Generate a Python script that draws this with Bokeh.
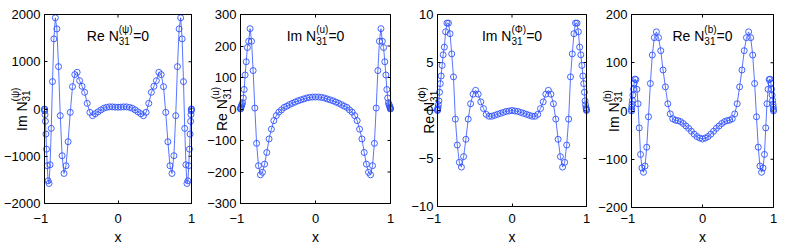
import math
from bokeh.plotting import figure
from bokeh.models import Range1d, FixedTicker, Label, LinearAxis
from bokeh.layouts import row
from bokeh.embed import file_html
from bokeh.resources import INLINE

# ---------------- data ----------------
x = [-1.0, -0.9992, -0.9969, -0.9931, -0.9877, -0.9808, -0.9724, -0.9625, -0.9511, -0.9382,
     -0.9239, -0.9081, -0.8910, -0.8725, -0.8526, -0.8315, -0.8090, -0.7853, -0.7604, -0.7343,
     -0.7071, -0.6788, -0.6494, -0.6191, -0.5878, -0.5556, -0.5225, -0.4886, -0.4540, -0.4187,
     -0.3827, -0.3461, -0.3090, -0.2714, -0.2334, -0.1951, -0.1564, -0.1175, -0.0785, -0.0393,
     0.0,
     0.0393, 0.0785, 0.1175, 0.1564, 0.1951, 0.2334, 0.2714, 0.3090, 0.3461, 0.3827,
     0.4187, 0.4540, 0.4886, 0.5225, 0.5556, 0.5878, 0.6191, 0.6494, 0.6788, 0.7071,
     0.7343, 0.7604, 0.7853, 0.8090, 0.8315, 0.8526, 0.8725, 0.8910, 0.9081, 0.9239,
     0.9382, 0.9511, 0.9625, 0.9724, 0.9808, 0.9877, 0.9931, 0.9969, 0.9992, 1.0]

im_psi = [0, -10, -40, -120, -260, -530, -850, -1200, -1520, -1576,
          -1180, -410, 580, 1484, 1930, 1696, 897, -141, -989, -1364,
          -1201, -693, -71, 473, 728, 777, 600, 480, 353, 120,
          -71, -141, -100, -60, -20, 15, 35, 45, 45, 40,
          38,
          40, 45, 45, 35, 15, -20, -60, -100, -141, -71,
          120, 353, 480, 600, 777, 728, 473, -71, -693, -1201,
          -1364, -989, -141, 897, 1696, 1930, 1484, 580, -410, -1180,
          -1576, -1520, -1200, -850, -530, -260, -120, -40, -10, 0]

re_u = [0, 1, 3, 6, 10, 14, 20, 35, 62, 108,
        150, 195, 215, 255, 215, 122, 3, -109, -180, -209,
        -201, -175, -138, -95, -64, -37, -21, -10, -3, 5,
        9, 14, 18, 22, 26, 29, 32, 35, 37, 38,
        38,
        38, 37, 35, 32, 29, 26, 22, 18, 14, 9,
        5, -3, -10, -21, -37, -64, -95, -138, -175, -201,
        -209, -180, -109, 3, 122, 215, 255, 215, 195, 150,
        108, 62, 35, 20, 14, 10, 6, 3, 1, 0]

re_phi = [0, 0.05, 0.15, 0.3, 0.6, 1.0, 1.9, 2.8, 3.6, 4.7,
          5.8, 6.6, 8.2, 9.1, 9.1, 8.0, 5.9, 3.5, -0.9, -3.6,
          -5.4, -5.9, -4.8, -3.0, -0.9, 0.7, 1.7, 2.1, 1.7, 0.9,
          0.2, -0.4, -0.6, -0.6, -0.5, -0.4, -0.3, -0.2, -0.1, -0.05,
          0,
          -0.05, -0.1, -0.2, -0.3, -0.4, -0.5, -0.6, -0.6, -0.4, 0.2,
          0.9, 1.7, 2.1, 1.7, 0.7, -0.9, -3.0, -4.8, -5.9, -5.4,
          -3.6, -0.9, 3.5, 5.9, 8.0, 9.1, 9.1, 8.2, 6.6, 5.8,
          4.7, 3.6, 2.8, 1.9, 1.0, 0.6, 0.3, 0.15, 0.05, 0]

im_b = [0, 3, 8, 14, 22, 33, 45, 58, 66, 65,
        45, 15, -35, -90, -118, -127, -114, -75, -12, 57,
        116, 152, 164, 152, 125, 85, 50, 15, -6, -16,
        -19, -20, -22, -26, -31, -36, -42, -48, -53, -56,
        -58,
        -56, -53, -48, -42, -36, -31, -26, -22, -20, -19,
        -16, -6, 15, 50, 85, 125, 152, 164, 152, 116,
        57, -12, -75, -114, -127, -118, -90, -35, 15, 45,
        65, 66, 58, 45, 33, 22, 14, 8, 3, 0]

x_ticks = [-1, 0, 1]
ticks_psi = [-2000, -1000, 0, 1000, 2000]
ticks_u = [-300, -200, -100, 0, 100, 200, 300]
ticks_phi = [-10, -5, 0, 5, 10]
ticks_b = [-200, -100, 0, 100, 200]

# label pieces: (base, superscript, subscript[, tail])
ylab_psi = ("Im N", "(\u03c8)", "31")
ylab_u = ("Re N", "(u)", "31")
ylab_phi = ("Re N", "(\u03a6)", "31")
ylab_b = ("Im N", "(b)", "31")
title_psi = ("Re N", "(\u03c8)", "31", "=0")
title_u = ("Im N", "(u)", "31", "=0")
title_phi = ("Im N", "(\u03a6)", "31", "=0")
title_b = ("Re N", "(b)", "31", "=0")
x_label = "x"

# ---------------- styling / layout ----------------
FONT = "Liberation Sans"
BLUE = "#2f52ff"
H = 245
AW = {' ': 278, 'R': 722, 'e': 556, 'N': 722, 'I': 278, 'm': 833, '(': 333, ')': 333,
      '\u03c8': 780, '\u03a6': 800, 'u': 556, 'b': 556, '3': 556, '1': 556, '=': 584, '0': 556}
BIG, SMALL = 14, 10
SUP, SUB = 6.5, 4.5


def tw(s, size):
    return sum(AW.get(c, 556) for c in s) / 1000.0 * size


def lab(p, x, y, text, size, angle=0.0, align="left"):
    p.add_layout(Label(x=x, y=y, x_units="screen", y_units="screen", text=text,
                       text_font=FONT, text_font_size=f"{size}px", text_color="black",
                       text_align=align, text_baseline="alphabetic", angle=angle))


def minus(v):
    return f"{v:g}".replace("-", "\u2212")


def style_axis(ax, ticks, overrides, standoff):
    ax.ticker = FixedTicker(ticks=ticks)
    ax.major_label_overrides = overrides
    ax.major_tick_in = 3
    ax.major_tick_out = 0
    ax.minor_tick_in = 0
    ax.minor_tick_out = 0
    ax.axis_line_color = "black"
    ax.axis_line_width = 1
    ax.major_tick_line_color = "black"
    ax.major_label_text_font = FONT
    ax.major_label_text_font_size = "13px"
    ax.major_label_text_color = "black"
    ax.major_label_standoff = standoff


def make_panel(ys, yticks, ylab, title, W, fl, fr, ft, fb, xstand, ylab_x):
    lo, hi = yticks[0], yticks[-1]
    # the whole canvas is the frame; the visible box [-1,1]x[lo,hi] sits at (fl..fr, ft..fb)
    kx = 2.0 / (fr - fl)
    ky = (hi - lo) / float(fb - ft)
    xr = Range1d(-1 - fl * kx, 1 + (W - fr) * kx)
    yr = Range1d(lo - (H - fb) * ky, hi + ft * ky)
    p = figure(frame_width=W, frame_height=H, min_border=0,
               x_range=xr, y_range=yr,
               output_backend="svg", toolbar_location=None,
               background_fill_color="white", border_fill_color="white",
               outline_line_color=None)
    p.xgrid.visible = False
    p.ygrid.visible = False

    xo = {t: minus(t) for t in x_ticks}
    xo[-1] = minus(-1) + "\u2007"
    style_axis(p.xaxis[0], x_ticks, xo, xstand)
    style_axis(p.yaxis[0], yticks, {t: minus(t) for t in yticks}, 4)
    p.xaxis.fixed_location = lo
    p.xaxis.bounds = (-1, 1)
    p.yaxis.fixed_location = -1
    p.yaxis.bounds = (lo, hi)

    # top and right sides of the box
    top = LinearAxis(fixed_location=hi, bounds=(-1, 1), ticker=FixedTicker(ticks=[]),
                     axis_line_color="black", major_tick_line_color=None,
                     minor_tick_line_color=None)
    right = LinearAxis(fixed_location=1, bounds=(lo, hi), ticker=FixedTicker(ticks=[]),
                       axis_line_color="black", major_tick_line_color=None,
                       minor_tick_line_color=None)
    p.add_layout(top, "above")
    p.add_layout(right, "right")
    # mirrored inward tick marks on top and right
    p.ray(x=x_ticks, y=[hi] * len(x_ticks), length=3, length_units="screen",
          angle=-math.pi / 2, line_color="black", line_width=1)
    p.ray(x=[1] * len(yticks), y=yticks, length=3, length_units="screen",
          angle=math.pi, line_color="black", line_width=1)

    p.line(x, ys, line_color=BLUE, line_width=0.8)
    p.scatter(x, ys, marker="circle", size=6, fill_color=None, line_color=BLUE, line_width=0.9)

    cxf = (fl + fr) / 2.0
    cyf = (ft + fb) / 2.0

    # title inside the box: base + stacked sup/sub + tail
    b, sp, sb, tail = title
    wb = tw(b, BIG)
    ws = max(tw(sp, SMALL), tw(sb, SMALL))
    T = wb + ws + tw(tail, BIG)
    x0 = cxf - T / 2.0
    yb = H - 35.5
    lab(p, x0, yb, b, BIG)
    lab(p, x0 + wb, yb + SUP, sp, SMALL)
    lab(p, x0 + wb, yb - SUB, sb, SMALL)
    lab(p, x0 + wb + ws, yb, tail, BIG)

    # rotated y label
    b, sp, sb = ylab
    wb = tw(b, BIG)
    ws = max(tw(sp, SMALL), tw(sb, SMALL))
    L = wb + ws
    y0 = (H - cyf) - L / 2.0
    a = math.pi / 2
    lab(p, ylab_x, y0, b, BIG, a)
    lab(p, ylab_x - SUP, y0 + wb, sp, SMALL, a)
    lab(p, ylab_x + SUB, y0 + wb, sb, SMALL, a)

    # x axis label
    lab(p, cxf, H - 236, x_label, BIG, 0.0, "center")
    return p


p1 = make_panel(im_psi, ticks_psi, ylab_psi, title_psi, 196, 44, 191, 14, 203, 7, 21.0)
p2 = make_panel(re_u, ticks_u, ylab_u, title_u, 198, 44, 194, 14, 203, 7, 25.5)
p3 = make_panel(re_phi, ticks_phi, ylab_phi, title_phi, 196, 43, 192, 14, 206, 4, 34.5)
p4 = make_panel(im_b, ticks_b, ylab_b, title_b, 198, 41, 183, 14, 207, 3, 23.0)

layout = row(p1, p2, p3, p4)
open("out.html", "w").write(file_html(layout, INLINE))
